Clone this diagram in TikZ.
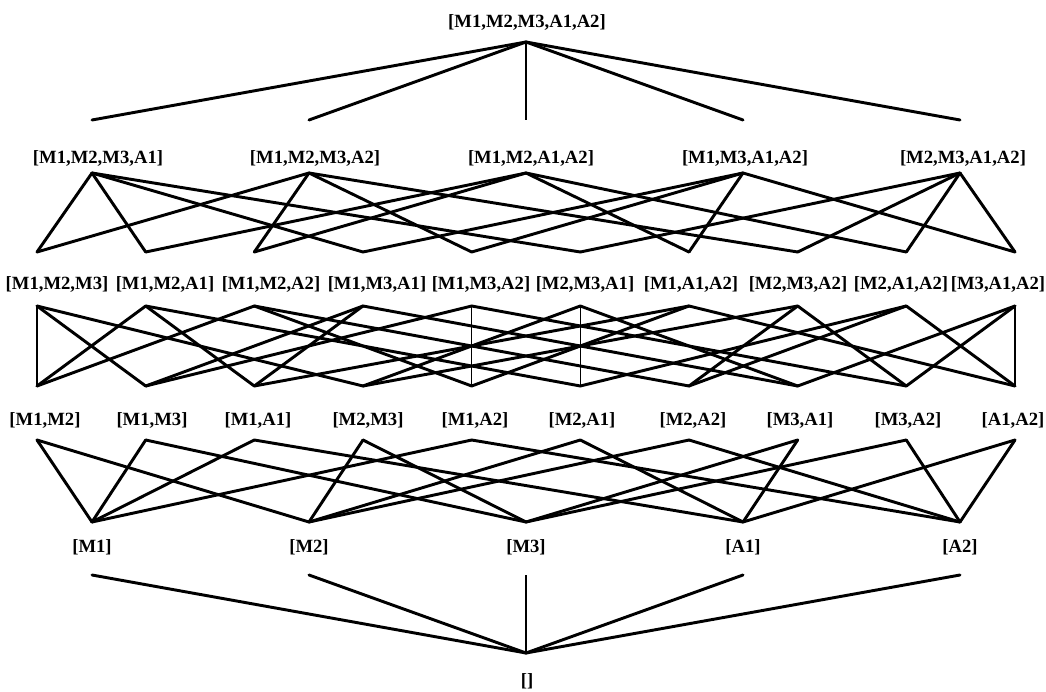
\documentclass[tikz,border=0pt]{standalone}
\usepackage{fontspec}
\setmainfont{Liberation Serif}
\tikzset{
  lbl/.style={font=\fontsize{14}{16}\selectfont\bfseries, inner sep=0pt},
  edge/.style={line width=2.2pt, line cap=round},
  vedge/.style={line width=0.8pt},
}
\begin{document}
\begin{tikzpicture}[x=0.75pt,y=-0.75pt]
\useasboundingbox (0,0) rectangle (1046,692);

% top: the full set
\node[lbl] (abcde) at (527,22) {[M1,M2,M3,A1,A2]};
\coordinate (abcde-b) at (526,42);

% four-element sets (\x: end point of the lines, \lx: label centre)
\foreach \n/\x/\lx/\t in {
  abcd/92/98/{[M1,M2,M3,A1]},
  abce/309/315/{[M1,M2,M3,A2]},
  abde/526/531/{[M1,M2,A1,A2]},
  acde/743/745/{[M1,M3,A1,A2]},
  bcde/960/963/{[M2,M3,A1,A2]}}{
  \node[lbl] (\n) at (\lx,158) {\t};
  \coordinate (\n-t) at (\x,120);
  \coordinate (\n-b) at (\x,173);
}

% three-element sets
\foreach \n/\x/\lx/\t in {
  abc/37/57/{[M1,M2,M3]},
  abd/145.7/165/{[M1,M2,A1]},
  abe/254.3/271/{[M1,M2,A2]},
  acd/363/377/{[M1,M3,A1]},
  ace/471.7/481/{[M1,M3,A2]},
  bcd/580.3/585/{[M2,M3,A1]},
  ade/689/691/{[M1,A1,A2]},
  bce/797.7/798/{[M2,M3,A2]},
  bde/906.3/901/{[M2,A1,A2]},
  cde/1015/998/{[M3,A1,A2]}}{
  \node[lbl] (\n) at (\lx,284) {\t};
  \coordinate (\n-t) at (\x,252);
  \coordinate (\n-b) at (\x,306);
}

% two-element sets
\foreach \n/\x/\lx/\t in {
  ab/37/45/{[M1,M2]},
  ac/145.7/152/{[M1,M3]},
  ad/254.3/258/{[M1,A1]},
  bc/363/368/{[M2,M3]},
  ae/471.7/475/{[M1,A2]},
  bd/580.3/582/{[M2,A1]},
  be/689/693/{[M2,A2]},
  cd/797.7/800/{[M3,A1]},
  ce/906.3/908/{[M3,A2]},
  de/1015/1013/{[A1,A2]}}{
  \node[lbl] (\n) at (\lx,420) {\t};
  \coordinate (\n-t) at (\x,386);
  \coordinate (\n-b) at (\x,440);
}

% singletons
\foreach \n/\x/\t in {
  a/92/{[M1]},
  b/309/{[M2]},
  c/526/{[M3]},
  d/743/{[A1]},
  e/960/{[A2]}}{
  \node[lbl] (\n) at (\x,547) {\t};
  \coordinate (\n-t) at (\x,522);
  \coordinate (\n-b) at (\x,575);
}

% bottom: the empty set
\node[lbl] (o) at (527,681) {[]};
\coordinate (o-t) at (526,653);

% slanted connectors
\foreach \u/\v in {
  abcde/abcd, abcde/abce, abcde/acde, abcde/bcde,
  abcd/abc, abcd/abd, abcd/acd, abcd/bcd,
  abce/abc, abce/abe, abce/ace, abce/bce,
  abde/abd, abde/abe, abde/ade, abde/bde,
  acde/acd, acde/ace, acde/ade, acde/cde,
  bcde/bcd, bcde/bce, bcde/bde, bcde/cde,
  abc/ac, abc/bc,
  abd/ab, abd/ad, abd/bd,
  abe/ab, abe/ae, abe/be,
  acd/ac, acd/ad, acd/cd,
  ace/ac, ace/ce,
  bcd/bc, bcd/cd,
  ade/ad, ade/ae, ade/de,
  bce/bc, bce/be, bce/ce,
  bde/bd, bde/be, bde/de,
  cde/cd, cde/ce,
  ab/a, ab/b, ac/a, ac/c, ad/a, ad/d, bc/b, bc/c, ae/a, ae/e,
  bd/b, bd/d, be/b, be/e, cd/c, cd/d, ce/c, ce/e, de/d, de/e,
  a/o, b/o, d/o, e/o}{
  \draw[edge] (\u-b) -- (\v-t);
}

% vertical connectors
\foreach \u/\v in {abcde/abde, abc/ab, ace/ae, bcd/bd, cde/de, c/o}{
  \draw[vedge] (\u-b) -- (\v-t);
}
\end{tikzpicture}
\end{document}
